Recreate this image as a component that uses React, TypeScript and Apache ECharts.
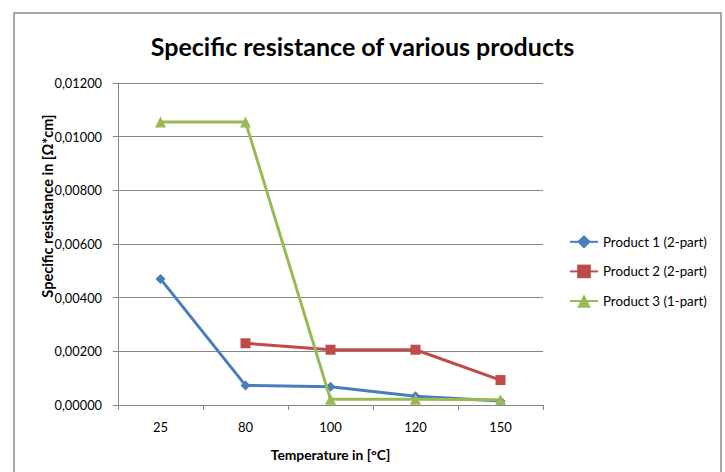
import React, { useEffect, useRef } from "react";
import * as echarts from "echarts";

const categories = ["25", "80", "100", "120", "150"];
const product1 = [0.0047, 0.00073, 0.00068, 0.00033, 0.00015];
const product2: (number | string)[] = ["-", 0.0023, 0.00206, 0.00206, 0.00093];
const product3 = [0.01055, 0.01055, 0.00021, 0.00021, 0.0002];
const seriesNames = ["Product 1 (2-part)", "Product 2 (2-part)", "Product 3 (1-part)"];
const yTicks = { min: 0, max: 0.012, interval: 0.002 };
const yAxisTitle = "Specific resistance in [Ω*cm]";
const xAxisTitle = "Temperature in [°C]";

const FONT = "Lato, 'Open Sans', sans-serif";

export default function App() {
  const ref = useRef<HTMLDivElement>(null);
  useEffect(() => {
    if (!ref.current) return;
    const chart = echarts.init(ref.current, undefined, { renderer: "svg" });
    chart.setOption({
      animation: false,
      backgroundColor: "#ffffff",
      textStyle: { fontFamily: FONT },
      title: {
        text: "Specific resistance of various products",
        left: "center",
        top: 28,
        textStyle: { fontFamily: FONT, fontSize: 25, fontWeight: "bold", color: "#000" },
      },
      graphic: [
        {
          type: "rect",
          shape: { x: 14, y: 13, width: 707, height: 470 },
          style: { fill: "none", stroke: "#8a8a8a", lineWidth: 1.5 },
          silent: true,
          z: -1,
        },
        {
          type: "text",
          x: 47,
          y: 206,
          rotation: Math.PI / 2,
          style: {
            text: yAxisTitle,
            fontFamily: FONT,
            fontSize: 14.5,
            fontWeight: "bold",
            fill: "#000",
            align: "center",
            verticalAlign: "middle",
          },
          silent: true,
        },
      ],
      legend: {
        orient: "vertical",
        left: 564,
        top: 230,
        itemGap: 16,
        itemWidth: 28,
        itemHeight: 17,
        textStyle: { fontFamily: FONT, fontSize: 13.3, color: "#000" },
        data: seriesNames,
      },
      grid: { left: 118, right: 182, top: 83, bottom: 67, containLabel: false },
      xAxis: {
        type: "category",
        data: categories,
        boundaryGap: true,
        name: xAxisTitle,
        nameLocation: "middle",
        nameGap: 42,
        nameTextStyle: { fontFamily: FONT, fontSize: 13.8, fontWeight: "bold", color: "#000" },
        axisLine: { lineStyle: { color: "#868686", width: 1 } },
        axisTick: { show: true, inside: false, length: 5, alignWithLabel: false, lineStyle: { color: "#868686" } },
        axisLabel: { fontFamily: FONT, fontSize: 13, color: "#000", margin: 15 },
        splitLine: { show: false },
      },
      yAxis: {
        type: "value",
        min: yTicks.min,
        max: yTicks.max,
        interval: yTicks.interval,
        axisLine: { show: true, lineStyle: { color: "#868686", width: 1 } },
        axisTick: { show: true, inside: false, length: 5, lineStyle: { color: "#868686" } },
        axisLabel: {
          fontFamily: FONT,
          fontSize: 12.8,
          color: "#000",
          margin: 16,
          formatter: (v: number) => v.toFixed(5).replace(".", ","),
        },
        splitLine: { show: true, lineStyle: { color: "#868686", width: 1 } },
      },
      series: [
        {
          name: seriesNames[0],
          type: "line",
          data: product1,
          symbol: "diamond",
          symbolSize: 10,
          lineStyle: { width: 3, color: "#4a7ebb" },
          itemStyle: { color: "#4a7ebb" },
          z: 3,
        },
        {
          name: seriesNames[1],
          type: "line",
          data: product2,
          symbol: "rect",
          symbolSize: 10,
          connectNulls: false,
          lineStyle: { width: 3, color: "#be4b48" },
          itemStyle: { color: "#be4b48" },
          z: 2,
        },
        {
          name: seriesNames[2],
          type: "line",
          data: product3,
          symbol: "triangle",
          symbolSize: 11,
          lineStyle: { width: 3, color: "#98b954" },
          itemStyle: { color: "#98b954" },
          z: 4,
        },
      ],
    });
    return () => chart.dispose();
  }, []);
  return (
    <div
      ref={ref}
      style={{ position: "fixed", left: 0, top: 0, width: 725, height: 472 }}
    />
  );
}
